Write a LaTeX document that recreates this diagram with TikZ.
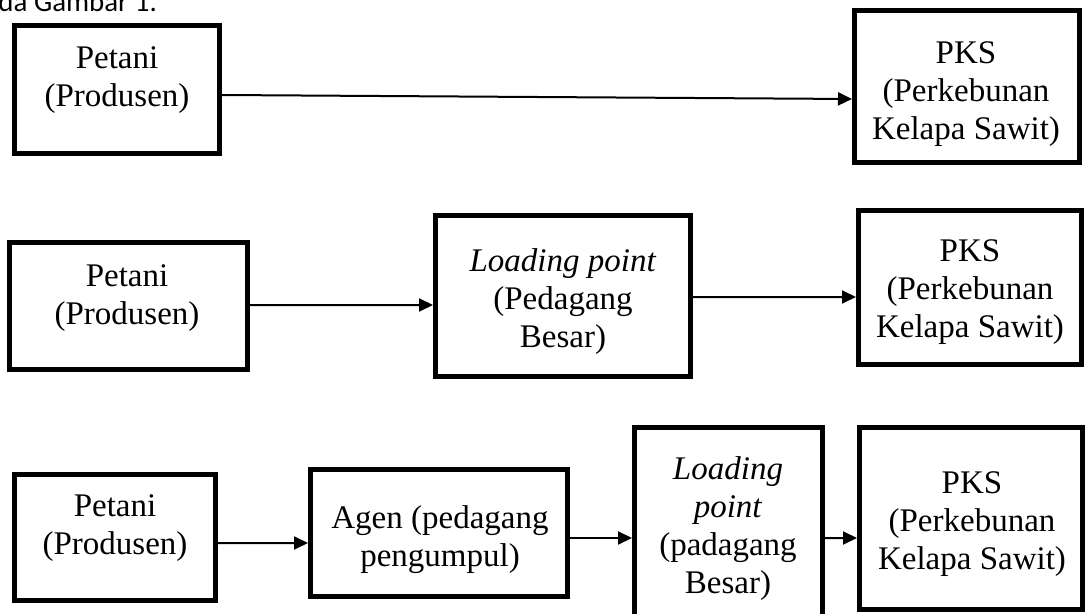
\documentclass[tikz,border=0pt]{standalone}
\usepackage{fontspec}
\setmainfont{Liberation Serif}
\newfontfamily\carlitofont{Carlito}
\usetikzlibrary{arrows.meta}
\tikzset{
  box/.style={draw=black, line width=5bp, inner sep=0pt, outer sep=2.5bp, rectangle},
  txt/.style={anchor=north, align=center, inner sep=0pt, font=\fontsize{33bp}{38bp}\selectfont},
  conn/.style={line width=2bp, -{Triangle[length=14bp,width=13bp]}},
}
\begin{document}
\begin{tikzpicture}[x=1bp,y=-1bp]
\useasboundingbox (0,0) rectangle (1088,614);
\clip (0,0) rectangle (1088,614);

\node[anchor=base east, inner sep=0pt, font=\carlitofont\fontsize{28.9bp}{34bp}\selectfont] (cap) at (157,12) {da Gambar 1.};

% row 1
\node[box, minimum width=205bp, minimum height=128bp] (A1) at (117,89.5) {};
\node[box, minimum width=225bp, minimum height=152bp] (P1) at (967,86.5) {};
\node[txt] (tA1) at (117,46) {Petani\\(Produsen)};
\node[txt] (tP1) at (966,41) {PKS\\(Perkebunan\\Kelapa Sawit)};
\draw[conn] ([yshift=-5.5bp]A1.east) -- ([yshift=-12.5bp]P1.west);

% row 2
\node[box, minimum width=238bp, minimum height=127bp] (A2) at (128.5,306) {};
\node[box, minimum width=255bp, minimum height=161bp] (L2) at (563,296) {};
\node[box, minimum width=223bp, minimum height=154bp] (P2) at (970,287.5) {};
\node[txt] (tA2) at (127,264) {Petani\\(Produsen)};
\node[txt] (tL2) at (563,248) {\textit{Loading point}\\(Pedagang\\Besar)};
\node[txt] (tP2) at (970,239) {PKS\\(Perkebunan\\Kelapa Sawit)};
\draw[conn] ([yshift=1bp]A2.east) -- ([yshift=-9bp]L2.west);
\draw[conn] ([yshift=-1bp]L2.east) -- ([yshift=-9.5bp]P2.west);

% row 3
\node[box, minimum width=201bp, minimum height=126bp] (A3) at (115,537.5) {};
\node[box, minimum width=257bp, minimum height=127bp] (Ag) at (439,533) {};
\node[box, minimum width=188bp, minimum height=210bp] (L3) at (728.5,532.5) {};
\node[box, minimum width=223bp, minimum height=182bp] (P3) at (971,518.5) {};
\node[txt] (tA3) at (115,494) {Petani\\(Produsen)};
\node[txt] (tAg) at (440,505) {Agen (pedagang\\pengumpul)};
\node[txt] (tL3) at (728,456) {\textit{Loading}\\\textit{point}\\(padagang\\Besar)};
\node[txt] (tP3) at (972,471) {PKS\\(Perkebunan\\Kelapa Sawit)};
\draw[conn] ([yshift=-5.5bp]A3.east) -- ([yshift=-10bp]Ag.west);
\draw[conn] ([yshift=-5bp]Ag.east) -- ([yshift=-5.5bp]L3.west);
\draw[conn] ([yshift=-5.5bp]L3.east) -- ([yshift=-19.5bp]P3.west);
\end{tikzpicture}
\end{document}
